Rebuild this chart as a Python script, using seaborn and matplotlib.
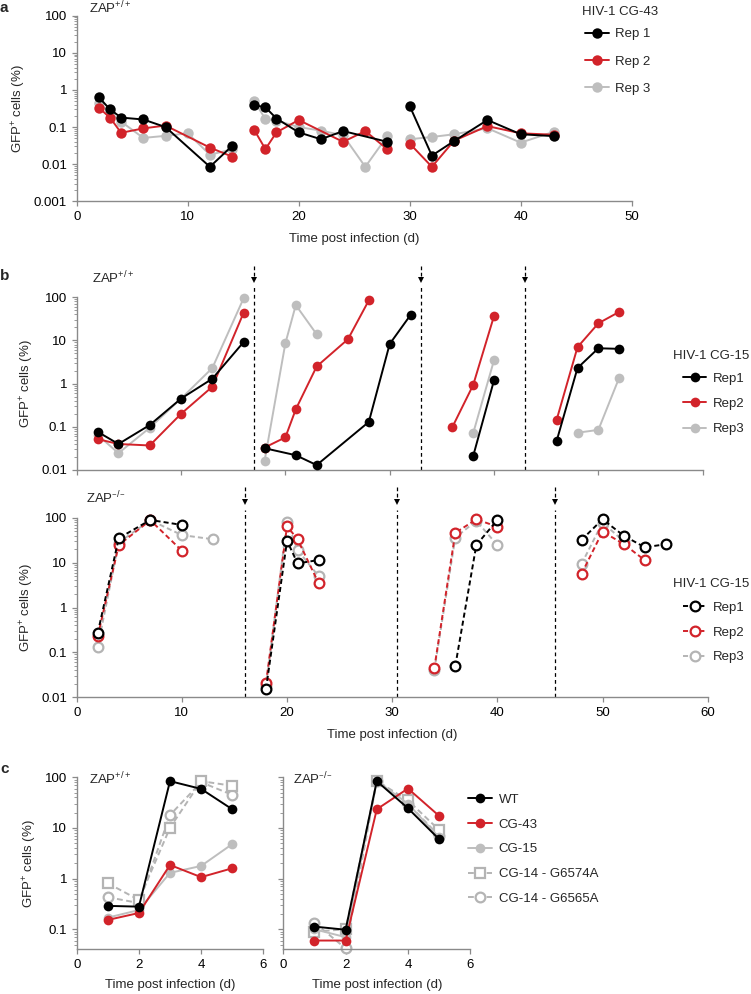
import numpy as np
import pandas as pd
import matplotlib
matplotlib.use("Agg")
import matplotlib.pyplot as plt
import matplotlib.transforms as mtransforms
from matplotlib.lines import Line2D
from matplotlib.ticker import LogLocator, FuncFormatter, NullFormatter, FixedLocator
import seaborn as sns

# ---------------- data ----------------
# Panel a: ZAP+/+, HIV-1 CG-43
a_days_rep1 = [2, 3, 4, 6, 8, 12, 14, 16, 17, 18, 20, 22, 24, 28, 30, 32, 34, 37, 40, 43]
a_rep1 = [0.63, 0.30, 0.18, 0.16, 0.10, 0.0085, 0.031, 0.39, 0.34, 0.17, 0.072, 0.047, 0.078, 0.040,
          0.37, 0.017, 0.042, 0.155, 0.064, 0.057]
a_days_rep2 = [2, 3, 4, 6, 8, 12, 14, 16, 17, 18, 20, 24, 26, 28, 30, 32, 34, 37, 40, 43]
a_rep2 = [0.33, 0.18, 0.070, 0.092, 0.11, 0.028, 0.016, 0.083, 0.0255, 0.072, 0.155, 0.040, 0.078, 0.025,
          0.036, 0.0085, 0.043, 0.106, 0.068, 0.062]
a_days_rep3 = [2, 3, 4, 6, 8, 10, 12, 14, 16, 17, 18, 20, 22, 24, 26, 28, 30, 32, 34, 37, 40, 43]
a_rep3 = [0.45, 0.25, 0.14, 0.051, 0.058, 0.068, 0.018, 0.025, 0.50, 0.164, 0.15, 0.10, 0.08, 0.06,
          0.0085, 0.058, 0.047, 0.054, 0.064, 0.093, 0.038, 0.075]
a_breaks = [15, 29]

# Panel b top: ZAP+/+, HIV-1 CG-15
bt_days_rep1 = [2, 4, 7, 10, 13, 16, 18, 21, 23, 28, 30, 32, 38, 40, 46, 48, 50, 52]
bt_rep1 = [0.077, 0.040, 0.11, 0.45, 1.3, 9.2, 0.032, 0.022, 0.013, 0.13, 8.3, 39,
           0.021, 1.2, 0.047, 2.3, 6.6, 6.4]
bt_days_rep2 = [2, 4, 7, 10, 13, 16, 18, 20, 21, 23, 26, 28, 36, 38, 40, 46, 48, 50, 52]
bt_rep2 = [0.052, 0.040, 0.037, 0.20, 0.85, 44, 0.033, 0.057, 0.255, 2.5, 10.7, 85,
           0.098, 0.93, 37, 0.145, 7.0, 25, 46]
bt_days_rep3 = [2, 4, 7, 10, 13, 16, 18, 20, 21, 23, 38, 40, 48, 50, 52]
bt_rep3 = [0.065, 0.0245, 0.095, 0.45, 2.3, 95, 0.016, 8.6, 66, 13.9, 0.071, 3.5, 0.073, 0.085, 1.38]
bt_passages = [17, 33, 43]

# Panel b bottom: ZAP-/-, HIV-1 CG-15
bb_days_rep1 = [2, 4, 7, 10, 18, 20, 21, 23, 36, 38, 40, 48, 50, 52, 54, 56]
bb_rep1 = [0.27, 35, 89, 69, 0.0153, 30.7, 9.6, 11.4, 0.05, 24.6, 89, 32, 92, 40, 22, 25.5]
bb_days_rep2 = [2, 4, 7, 10, 18, 20, 21, 23, 34, 36, 38, 40, 48, 50, 52, 54]
bb_rep2 = [0.23, 24.6, 88, 18.4, 0.021, 65, 33, 3.5, 0.044, 46, 92, 63, 5.6, 49, 26, 11.4]
bb_days_rep3 = [2, 4, 7, 10, 13, 18, 20, 21, 23, 34, 36, 38, 40, 48, 50, 52]
bb_rep3 = [0.134, 28, 88, 41, 33, 0.018, 81, 19, 5, 0.040, 36, 85, 24.6, 9.3, 78, 30]
bb_passages = [16, 30.5, 45.5]

# Panel c
c_days = [1, 2, 3, 4, 5]
c_labels = ["WT", "CG-43", "CG-15", "CG-14 - G6574A", "CG-14 - G6565A"]
c_wt_pos = [0.29, 0.28, 84, 59, 23.4]
c_cg43_pos = [0.153, 0.21, 1.86, 1.07, 1.6]
c_cg15_pos = [0.17, 0.24, 1.3, 1.78, 4.8]
c_g6574a_pos = [0.81, 0.38, 10.1, 84, 68]
c_g6565a_pos = [0.43, 0.33, 18, 80, 45]
c_wt_neg = [0.113, 0.098, 84, 24.5, 6.0]
c_cg43_neg = [0.06, 0.06, 23.4, 60, 17.3]
c_cg15_neg = [0.10, 0.07, 85, 30, 6.5]
c_g6574a_neg = [0.09, 0.10, 85, 35, 9.1]
c_g6565a_neg = [0.135, 0.042, 85, 30, 7.0]

# ---------------- style ----------------
sns.set_style("ticks")
plt.rcParams["font.family"] = ["Liberation Sans", "DejaVu Sans"]
plt.rcParams["mathtext.default"] = "regular"
plt.rcParams["font.size"] = 9.5

BLACK = "#000000"
RED = "#D2232A"
GRAY = "#BEBEBE"
GRAY2 = "#B4B4B4"
SPINE = "#8A8A8A"

W, H = 751, 994
fig = plt.figure(figsize=(W / 100, H / 100), dpi=100)


def px_axes(l, t, r, b):
    return fig.add_axes([l / W, 1 - b / H, (r - l) / W, (b - t) / H])


def draw(ax, days, vals, color, marker="o", breaks=(), open_=False, dashed=None,
         ms=7.5, lw=1.4, z=2):
    seg = np.searchsorted(np.asarray(breaks, float), np.asarray(days, float))
    df = pd.DataFrame({"day": days, "gfp": vals, "seg": seg})
    kw = dict(color=color, marker=marker, markersize=ms, mec=color,
              mfc="white" if open_ else color, mew=1.6 if open_ else 0.0,
              lw=lw, clip_on=False, zorder=z)
    if dashed is not None:
        kw["linestyle"] = (0, dashed)
    sns.lineplot(data=df, x="day", y="gfp", units="seg", estimator=None,
                 sort=True, ax=ax, legend=False, **kw)


def style_axis(ax, ylim, xlim, xticks, ylabels=True, xlabels=True):
    ax.set_yscale("log")
    ax.set_ylim(*ylim)
    ax.set_xlim(*xlim)
    ax.yaxis.set_major_locator(LogLocator(base=10, numticks=12))
    ax.yaxis.set_minor_locator(LogLocator(base=10, subs=np.arange(2, 10), numticks=12))
    ax.yaxis.set_minor_formatter(NullFormatter())
    ax.yaxis.set_major_formatter(FuncFormatter(lambda v, p: "%g" % v))
    ax.xaxis.set_major_locator(FixedLocator(xticks))
    for s in ["top", "right"]:
        ax.spines[s].set_visible(False)
    for s in ["left", "bottom"]:
        ax.spines[s].set_color(SPINE)
        ax.spines[s].set_linewidth(1.0)
    ax.tick_params(which="major", length=3.5, width=0.9, color=SPINE, labelcolor="black",
                   labelsize=9.5, pad=3.5)
    ax.tick_params(which="minor", length=2, width=0.6, color=SPINE)
    if not ylabels:
        ax.tick_params(axis="y", which="both", labelleft=False)
    if not xlabels:
        ax.tick_params(axis="x", labelbottom=False)
    ax.set_xlabel("")
    ax.set_ylabel("")


def passage_marks(ax, xs, line_top, stem_top, tip):
    tr = mtransforms.blended_transform_factory(ax.transData, ax.transAxes)
    for x in xs:
        ax.plot([x, x], [0, line_top], transform=tr, color="black", lw=0.9,
                ls=(0, (3, 2.5)), clip_on=False, zorder=1)
        ax.plot([x, x], [stem_top, tip + 0.02], transform=tr, color="black", lw=0.9,
                ls=(0, (3, 2)), clip_on=False, zorder=1)
        ax.plot([x], [tip + 0.015], transform=tr, marker="v", ms=4.5, color="black",
                mew=0, clip_on=False, zorder=1)


YLAB = "GFP$^{+}$ cells (%)"
XLAB = "Time post infection (d)"

# ---------------- panel a ----------------
axA = px_axes(76.7, 15.7, 631.7, 201.3)
draw(axA, a_days_rep3, a_rep3, GRAY, breaks=a_breaks, z=2)
draw(axA, a_days_rep2, a_rep2, RED, breaks=a_breaks, z=3)
draw(axA, a_days_rep1, a_rep1, BLACK, breaks=a_breaks, z=4)
style_axis(axA, (0.001, 100), (0, 50), [0, 10, 20, 30, 40, 50])
axA.set_xlabel(XLAB, fontsize=9.5, labelpad=7)
axA.set_ylabel(YLAB, fontsize=9.5, labelpad=4)

# ---------------- panel b top ----------------
axB1 = px_axes(76.7, 297.3, 702.7, 470)
draw(axB1, bt_days_rep3, bt_rep3, GRAY, breaks=bt_passages, ms=7, z=2)
draw(axB1, bt_days_rep2, bt_rep2, RED, breaks=bt_passages, ms=7, z=3)
draw(axB1, bt_days_rep1, bt_rep1, BLACK, breaks=bt_passages, ms=7, z=4)
style_axis(axB1, (0.01, 100), (0, 60), [0, 10, 20, 30, 40, 50, 60], xlabels=False)
axB1.set_ylabel(YLAB, fontsize=9.5, labelpad=4)
passage_marks(axB1, bt_passages, 1.06, 1.18, 1.085)

# ---------------- panel b bottom ----------------
axB2 = px_axes(76.7, 517.7, 707.7, 697.3)
DASH_B = (2.6, 1.6)
draw(axB2, bb_days_rep3, bb_rep3, GRAY2, breaks=bb_passages, open_=True, dashed=DASH_B, ms=7, z=2)
draw(axB2, bb_days_rep2, bb_rep2, RED, breaks=bb_passages, open_=True, dashed=DASH_B, ms=7, z=3)
draw(axB2, bb_days_rep1, bb_rep1, BLACK, breaks=bb_passages, open_=True, dashed=DASH_B, ms=7, z=4)
style_axis(axB2, (0.01, 100), (0, 60), [0, 10, 20, 30, 40, 50, 60])
axB2.set_xlabel(XLAB, fontsize=9.5, labelpad=7)
axB2.set_ylabel(YLAB, fontsize=9.5, labelpad=4)
passage_marks(axB2, bb_passages, 1.043, 1.17, 1.075)

# ---------------- panel c ----------------
DASH_C = (3.0, 1.8)
axC1 = px_axes(76.7, 777.3, 263.3, 949.3)
axC2 = px_axes(283.3, 777.3, 470.3, 949.3)
for ax, sets in [(axC1, [c_wt_pos, c_cg43_pos, c_cg15_pos, c_g6574a_pos, c_g6565a_pos]),
                 (axC2, [c_wt_neg, c_cg43_neg, c_cg15_neg, c_g6574a_neg, c_g6565a_neg])]:
    wt, cg43, cg15, g74, g65 = sets
    draw(ax, c_days, g65, GRAY2, marker="o", open_=True, dashed=DASH_C, ms=7, z=2)
    draw(ax, c_days, g74, GRAY2, marker="s", open_=True, dashed=DASH_C, ms=7, z=2)
    draw(ax, c_days, cg15, GRAY, ms=7, z=3)
    draw(ax, c_days, cg43, RED, ms=7, z=4)
    draw(ax, c_days, wt, BLACK, ms=7, z=5)
style_axis(axC1, (0.0403, 100), (0, 6), [0, 2, 4, 6])
style_axis(axC2, (0.0403, 100), (0, 6), [0, 2, 4, 6], ylabels=False)
axC1.set_xlabel(XLAB, fontsize=9.5, labelpad=6)
axC2.set_xlabel(XLAB, fontsize=9.5, labelpad=6)
axC1.set_ylabel(YLAB, fontsize=9.5, labelpad=4)

# ---------------- texts ----------------
def ftext(x, y, s, **kw):
    fig.text(x / W, 1 - y / H, s, **kw)

ftext(0, 12, "a", fontsize=11, fontweight="bold", va="baseline")
ftext(0, 280, "b", fontsize=11, fontweight="bold", va="baseline")
ftext(0, 773, "c", fontsize=11, fontweight="bold", va="baseline")

ftext(89, 13.3, "ZAP$^{+/+}$", fontsize=9.5, va="baseline")
ftext(91.7, 283.3, "ZAP$^{+/+}$", fontsize=9.5, va="baseline")
ftext(86, 503.3, "ZAP$^{\u2013/\u2013}$", fontsize=9.5, va="baseline")
ftext(89.3, 784.3, "ZAP$^{+/+}$", fontsize=9.5, va="baseline")
ftext(293.3, 784.3, "ZAP$^{\u2013/\u2013}$", fontsize=9.5, va="baseline")

# legend titles
ftext(581.7, 12.3, "HIV-1 CG-43", fontsize=9.5, va="center")
ftext(673.3, 356, "HIV-1 CG-15", fontsize=9.5, va="center")
ftext(673.3, 584.3, "HIV-1 CG-15", fontsize=9.5, va="center")


def handle(color, marker="o", open_=False, dashed=None, ms=7.5):
    return Line2D([], [], color=color, marker=marker, ms=ms, mec=color,
                  mfc="white" if open_ else color, mew=1.6 if open_ else 0, lw=1.4,
                  ls=(0, dashed) if dashed else "-")


def add_legend(ax, handles, labels, x, y_first, spacing):
    fs = 9.5
    fs_px = fs * 100 / 72
    leg = ax.legend(handles, labels, loc="center left",
                    bbox_to_anchor=(x / W, 1 - (y_first + spacing * (len(labels) - 1) / 2) / H),
                    bbox_transform=fig.transFigure, frameon=False, borderpad=0,
                    labelspacing=(spacing - fs_px) / fs_px, handlelength=1.8,
                    handletextpad=0.5, fontsize=fs, borderaxespad=0)
    return leg


add_legend(axA, [handle(BLACK), handle(RED), handle(GRAY)], ["Rep 1", "Rep 2", "Rep 3"],
           585, 33.3, 28.3)
add_legend(axB1, [handle(BLACK, ms=7), handle(RED, ms=7), handle(GRAY, ms=7)],
           ["Rep1", "Rep2", "Rep3"], 682.7, 377.7, 26.2)
add_legend(axB2, [handle(BLACK, open_=True, dashed=DASH_B, ms=7),
                  handle(RED, open_=True, dashed=DASH_B, ms=7),
                  handle(GRAY2, open_=True, dashed=DASH_B, ms=7)],
           ["Rep1", "Rep2", "Rep3"], 682.7, 606.7, 25.8)
add_legend(axC2, [handle(BLACK, ms=7), handle(RED, ms=7), handle(GRAY, ms=7),
                  handle(GRAY2, "s", True, DASH_C, ms=7), handle(GRAY2, "o", True, DASH_C, ms=7)],
           c_labels, 468.3, 797.7, 25.8)

fig.savefig("out.png", dpi=100)
